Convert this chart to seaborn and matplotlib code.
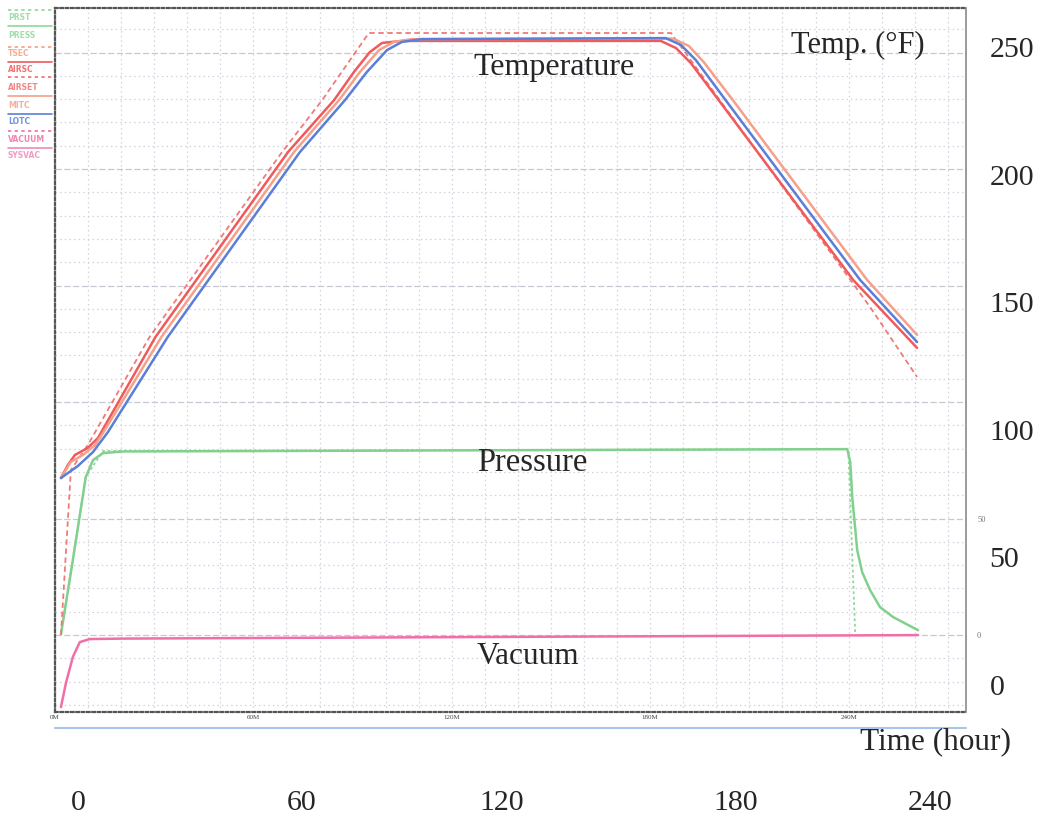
# -------------------------
# 1. Import Libraries
# -------------------------
import numpy as np
import seaborn as sns
import matplotlib.pyplot as plt
from matplotlib.lines import Line2D

# -------------------------
# 2. Data (time in chart units, temp in F, pressure / vacuum on the inner scale)
# -------------------------
lotc_t = [1.8, 6.9, 11.5, 16.0, 34.1, 74.1, 87.7, 94.3, 100.4, 104.9, 110.9,
          184.7, 189.3, 193.8, 202.8, 225.4, 243.5, 260.7]
lotc_temp = [81.1, 85.8, 91.3, 99.1, 136.4, 208.9, 229.2, 240.2, 248.8, 252.0, 253.1,
             253.5, 250.8, 244.9, 229.2, 190.0, 158.7, 134.4]

airsc_t = [1.8, 3.9, 6.0, 9.9, 13.0, 30.4, 70.5, 84.4, 90.4, 95.2, 98.9, 104.9,
           183.2, 187.8, 192.3, 200.7, 241.4, 260.7]
airsc_temp = [81.1, 86.2, 90.1, 92.9, 96.8, 136.4, 208.9, 229.2, 240.2, 248.0, 251.6, 252.4,
              252.4, 249.6, 243.7, 229.2, 158.7, 132.1]

tsec_t = [1.8, 4.8, 8.4, 12.1, 14.5, 32.2, 72.3, 85.9, 92.2, 98.0, 102.5, 107.9,
          186.9, 191.7, 196.2, 205.0, 245.6, 260.7]
tsec_temp = [81.1, 87.4, 90.1, 94.0, 98.7, 136.4, 208.9, 229.2, 240.2, 248.8, 252.0, 253.1,
             253.3, 250.4, 244.1, 229.2, 158.7, 137.2]

airset_t = [1.8, 4.8, 9.9, 28.6, 68.7, 80.8, 94.9, 186.3, 246.5, 260.7]
airset_temp = [19.6, 84.2, 94.0, 136.4, 208.9, 229.2, 255.5, 255.5, 148.1, 120.7]

press_t = [1.8, 5.4, 9.3, 11.5, 14.5, 20.5, 239.6, 240.5, 241.1, 242.6, 244.1,
           246.5, 249.5, 253.5, 261.0]
press_val = [0.4, 32.2, 67.8, 75.1, 78.1, 78.8, 79.8, 74.2, 59.2, 36.5, 27.0,
             19.3, 12.0, 7.7, 2.1]

prst_t = [1.8, 9.3, 14.5, 239.9, 242.0]
prst_val = [0.4, 67.8, 79.0, 79.8, 0.4]

vac_t = [1.8, 3.3, 5.4, 7.5, 10.5, 20.5, 261.0]
vac_val = [-30.9, -20.6, -9.4, -3.0, -1.7, -1.5, 0.0]

inner_ticks = [0, 60, 120, 180, 240]
inner_labels = ["0M", "60M", "120M", "180M", "240M"]
outer_tick_pos = [6.9, 74.7, 135.0, 205.8, 264.6]
outer_labels = ["0", "60", "120", "180", "240"]
temp_ticks = [0, 50, 100, 150, 200, 250]

legend_names = ["PRST", "PRESS", "TSEC", "AIRSC", "AIRSET", "MITC", "LOTC", "VACUUM", "SYSVAC"]
legend_colors = ["#8fd89a", "#8fd89a", "#f4a080", "#f05a5a", "#f07070",
                 "#f4a088", "#5a7fd8", "#f06fa8", "#f08ab8"]
legend_dashed = [True, False, True, False, True, False, False, True, False]

# -------------------------
# 3. Style
# -------------------------
sns.set_style("white")
plt.rcParams["font.family"] = ["Liberation Serif", "DejaVu Serif"]

W, H = 1045, 817
fig = plt.figure(figsize=(10.45, 8.17), dpi=100)
ax = fig.add_axes([55 / W, 1 - 712 / H, (966 - 55) / W, (712 - 8) / H])
axT = ax.twinx()

# -------------------------
# 4. Pressure / vacuum (inner scale) + grid
# -------------------------
ax.set_xlim(0.9, 275.5)
ax.set_ylim(-33.0, 269.1)

sns.lineplot(x=prst_t, y=prst_val, ax=ax, color="#8fd89a", linewidth=1.3,
             linestyle=(0, (1.5, 1.5)), sort=False, estimator=None)
sns.lineplot(x=press_t, y=press_val, ax=ax, color="#82d08e", linewidth=1.8,
             sort=False, estimator=None)
sns.lineplot(x=vac_t, y=vac_val, ax=ax, color="#f06fa8", linewidth=1.8,
             sort=False, estimator=None)

ax.set_xticks(np.arange(0, 276, 10), minor=True)
ax.set_xticks(inner_ticks)
ax.set_xticklabels(inner_labels)
ax.set_yticks(np.arange(-30, 270, 10), minor=True)
ax.set_yticks(np.arange(0, 251, 50))
ax.set_yticklabels(["0", "50", "", "", "", ""])
ax.yaxis.tick_right()

ax.grid(True, which="both", axis="x", color="#d2d2de", linestyle=(0, (1.2, 2.5)), linewidth=0.9)
ax.grid(True, which="minor", axis="y", color="#d2d2de", linestyle=(0, (1.2, 2.5)), linewidth=0.9)
ax.grid(True, which="major", axis="y", color="#c8c8d2", linestyle=(0, (5, 2)), linewidth=0.9)

ax.tick_params(axis="x", which="both", length=0, labelsize=5, pad=2, labelcolor="#444444")
ax.tick_params(axis="y", which="both", length=0, labelsize=6, pad=8, labelcolor="#777777")
ax.set_xlabel("")
ax.set_ylabel("")

for side in ["left", "top", "bottom"]:
    ax.spines[side].set_color("#555555")
    ax.spines[side].set_linewidth(1.6)
    ax.spines[side].set_linestyle((0, (1.2, 1.2)))
ax.spines["right"].set_color("#8a8a8a")
ax.spines["right"].set_linewidth(1.2)

# -------------------------
# 5. Temperature curves (F scale on the right)
# -------------------------
axT.set_ylim(-10.6, 265.3)
sns.lineplot(x=airset_t, y=airset_temp, ax=axT, color="#f07a7a", linewidth=1.3,
             linestyle=(0, (3, 2)), sort=False, estimator=None)
sns.lineplot(x=airsc_t, y=airsc_temp, ax=axT, color="#f05a5a", linewidth=1.8,
             sort=False, estimator=None)
sns.lineplot(x=tsec_t, y=tsec_temp, ax=axT, color="#f5a08a", linewidth=1.8,
             sort=False, estimator=None)
sns.lineplot(x=lotc_t, y=lotc_temp, ax=axT, color="#5a7fd8", linewidth=1.8,
             sort=False, estimator=None)

axT.set_yticks(temp_ticks)
axT.tick_params(axis="y", length=0, labelsize=21.5, pad=17)
axT.set_ylabel("")
for side in axT.spines:
    axT.spines[side].set_visible(False)

# outer time labels
sec = ax.secondary_xaxis("bottom")
sec.set_ticks(outer_tick_pos, labels=outer_labels)
sec.tick_params(length=0, pad=56, labelsize=21.5)
sec.spines["bottom"].set_visible(False)

# -------------------------
# 6. Texts
# -------------------------
axT.text(151.0, 241.8, "Temperature", ha="center", va="center", fontsize=23)
ax.text(144.4, 74.0, "Pressure", ha="center", va="center", fontsize=23.5)
ax.text(142.9, -9.0, "Vacuum", ha="center", va="center", fontsize=22.5)
axT.text(242.9, 250.8, "Temp. (°F)", ha="center", va="center", fontsize=22)
fig.text(935 / W, 1 - 742 / H, "Time (hour)", ha="center", va="center", fontsize=22.5)

# small channel legend at the left
line_y = [10, 26, 47, 62, 77, 96, 114, 131, 148]
text_y = [18, 35, 53, 70, 88, 105, 122, 139, 156]
for name, col, dsh, ly, ty in zip(legend_names, legend_colors, legend_dashed, line_y, text_y):
    fig.add_artist(Line2D([8 / W, 52 / W], [1 - ly / H, 1 - ly / H], color=col, lw=1.2,
                          linestyle=(0, (2, 2)) if dsh else "-"))
    fig.text(8 / W, 1 - ty / H, name, color=col, fontsize=5.5, fontweight="bold",
             ha="left", va="center", family="DejaVu Sans", alpha=0.85)

fig.add_artist(Line2D([55 / W, 966 / W], [1 - 728 / H, 1 - 728 / H], color="#a8c4ec", lw=1.5))

fig.savefig("out.png", dpi=100)
